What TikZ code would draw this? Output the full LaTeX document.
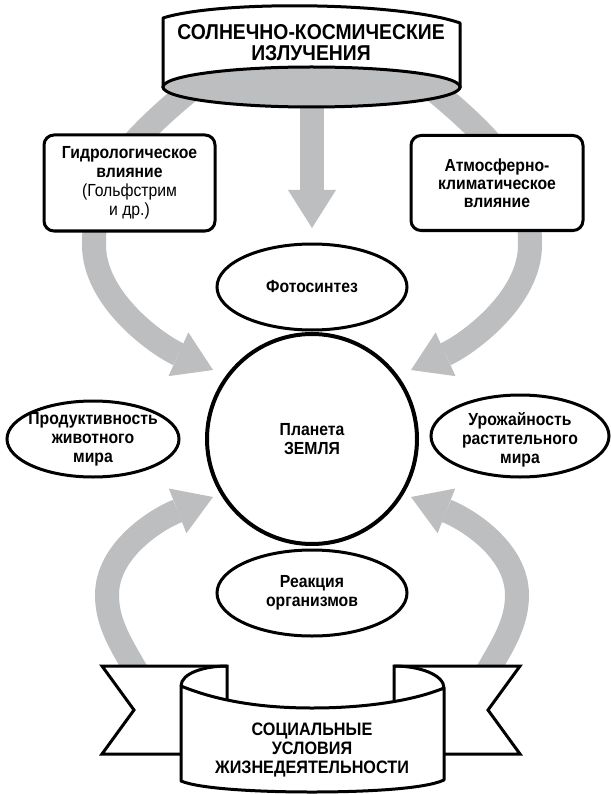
\documentclass[tikz,border=0pt]{standalone}
\usepackage{fontspec}
\setmainfont{Liberation Sans}[FakeStretch=0.9]
\usetikzlibrary{arrows.meta,shapes.geometric}
\definecolor{bandgray}{RGB}{189,190,192}
\newcommand\dgnodefont{\bfseries\fontsize{17.5}{19}\selectfont}
\begin{document}
\begin{tikzpicture}[x=1pt,y=-1pt,
  band/.style={draw=bandgray, line width=24pt},
  bandarrow/.style={band, -{Triangle[length=38pt,width=48pt,line width=0pt]}},
  outline/.style={draw=black, line width=3pt},
  rbox/.style={outline, fill=white, rounded corners=10pt, inner sep=0pt, align=center, font=\dgnodefont},
  oval/.style={outline, ellipse, fill=white, inner sep=0pt},
  txt/.style={align=center, inner sep=0pt, font=\dgnodefont},
]
\fill[white] (0,0) rectangle (610,794);
\path[use as bounding box] (0,0) rectangle (610,794);

% anchor points of the grey bands
\coordinate (ltS) at (205,78);  \coordinate (ltB) at (94,245);  \coordinate (ltT) at (213,370);
\coordinate (rtS) at (419,78);  \coordinate (rtB) at (530,245); \coordinate (rtT) at (411,370);
\coordinate (lbS) at (150,700); \coordinate (lbB) at (107,595); \coordinate (lbT) at (213,497);
\coordinate (rbS) at (474,700); \coordinate (rbB) at (517,595); \coordinate (rbT) at (411,497);
\coordinate (cS) at (312,92);   \coordinate (cT) at (312,228);

% grey bands
\draw[bandarrow] (ltS) .. controls (115,150) and (94,185) .. (ltB) .. controls (94,300) and (158,345) .. (ltT);
\draw[bandarrow] (rtS) .. controls (509,150) and (530,185) .. (rtB) .. controls (530,300) and (466,345) .. (rtT);
\draw[bandarrow] (lbS) .. controls (136,662) and (107,635) .. (lbB) .. controls (107,550) and (157,519) .. (lbT);
\draw[bandarrow] (rbS) .. controls (488,662) and (517,635) .. (rbB) .. controls (517,550) and (467,519) .. (rbT);
\draw[bandarrow] (cS) -- (cT);

% top banner (cylinder)
\draw[outline, fill=white, line join=round] (163,18) .. controls (220,0) and (400,2) .. (460,23) -- (460,88) -- (163,88) -- cycle;
\node[outline, ellipse, fill=bandgray, minimum width=297pt, minimum height=40pt, inner sep=0pt] (sunbase) at (311.5,87) {};
\node[txt, font=\bfseries\fontsize{21.5}{21}\selectfont] (sun) at (311,43) {СОЛНЕЧНО-КОСМИЧЕСКИЕ\\ИЗЛУЧЕНИЯ};

% boxes
\node[rbox, minimum width=171pt, minimum height=96pt] (hydro) at (129.5,183)
  {Гидрологическое\\влияние\\\textmd{(Гольфстрим}\\\textmd{и др.)}};
\node[rbox, minimum width=172pt, minimum height=95pt, font=\bfseries\fontsize{17.5}{18}\selectfont] (atmo) at (497,183)
  {Атмосферно-\\климатическое\\влияние};

% ellipses and circle
\node[oval, minimum width=190pt, minimum height=86pt] (photo) at (312,287) {};
\node[txt] (photot) at (photo) {Фотосинтез};
\node[outline, line width=4pt, circle, fill=white, minimum size=210pt, inner sep=0pt] (earth) at (312,439) {};
\node[txt] (eartht) at (earth) {Планета\\ЗЕМЛЯ};
\node[oval, minimum width=172pt, minimum height=76pt] (prod) at (93,439) {};
\node[txt] (prodt) at (prod) {Продуктивность\\животного\\мира};
\node[oval, minimum width=178pt, minimum height=82pt] (yield) at (520,436) {};
\node[txt] (yieldt) at (520,440) {Урожайность\\растительного\\мира};
\node[oval, minimum width=190pt, minimum height=86pt] (react) at (312,593) {};
\node[txt] (reactt) at (react) {Реакция\\организмов};

% bottom ribbon
\draw[outline, fill=white] (227,666) -- (102,666) -- (134,710) -- (102,754) -- (227,754) -- cycle;
\draw[outline, fill=white] (394,666) -- (520,666) -- (488,710) -- (520,754) -- (394,754) -- cycle;
\draw[outline, fill=white, line join=round] (181,686) .. controls (220,702) and (265,708) .. (312,708)
  .. controls (360,708) and (410,702) .. (444,688) -- (444,780)
  .. controls (425,789) and (364,792) .. (312,792) .. controls (260,792) and (200,789) .. (181,781) -- cycle;
\draw[outline] (181,686) .. controls (181,673) and (205,666) .. (227,666);
\draw[outline] (394,666) .. controls (420,666) and (444,675) .. (444,688);
\node[txt, font=\bfseries\fontsize{18}{19}\selectfont] (social) at (312,750) {СОЦИАЛЬНЫЕ\\УСЛОВИЯ\\ЖИЗНЕДЕЯТЕЛЬНОСТИ};
\end{tikzpicture}
\end{document}
